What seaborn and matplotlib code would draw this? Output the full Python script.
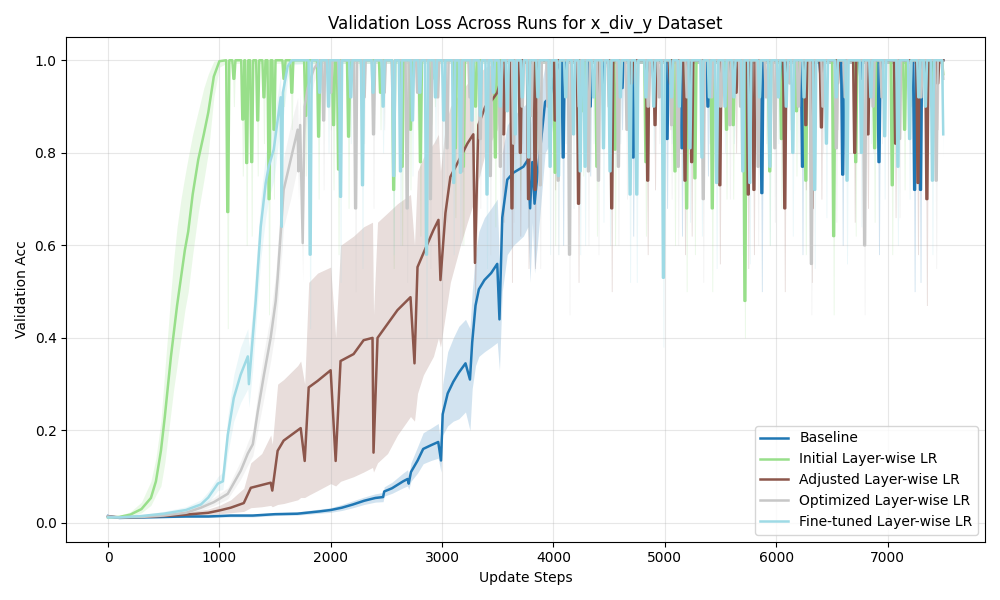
import numpy as np
import pandas as pd
import matplotlib
matplotlib.use("Agg")
import matplotlib.pyplot as plt
import seaborn as sns

# ---------------- data ----------------
labels = ["Baseline", "Initial Layer-wise LR", "Adjusted Layer-wise LR",
          "Optimized Layer-wise LR", "Fine-tuned Layer-wise LR"]
colors = ["#1f77b4", "#98df8a", "#8c564b", "#c7c7c7", "#9edae5"]
PLATEAU = 1.0
PLATEAU_LO = 0.993
LAST_STEP = 7500

# Baseline
base_steps = [0, 50, 100, 300, 500, 700, 900, 1100, 1300, 1500, 1700, 1900, 2000, 2100, 2200, 2300, 2400,
              2470, 2480, 2550, 2650, 2690, 2700, 2720, 2780, 2830, 2900, 2965, 2990, 3005, 3050, 3100,
              3150, 3210, 3250, 3270, 3300, 3330, 3380, 3440, 3495, 3515, 3540, 3585, 3640, 3730, 3770,
              3790, 3810, 3830, 3855, 3925, 3970, 4000, 4040]
base_mean = [0.015, 0.013, 0.011, 0.012, 0.013, 0.014, 0.014, 0.016, 0.016, 0.019, 0.020, 0.025, 0.028,
             0.033, 0.040, 0.048, 0.054, 0.056, 0.068, 0.075, 0.090, 0.095, 0.085, 0.110, 0.135, 0.160,
             0.168, 0.175, 0.135, 0.235, 0.280, 0.305, 0.325, 0.345, 0.310, 0.390, 0.470, 0.505, 0.525,
             0.540, 0.560, 0.440, 0.660, 0.742, 0.757, 0.770, 0.785, 0.680, 0.780, 0.690, 0.750, 0.910,
             0.920, 0.960, 0.985]
base_lo = [0.012, 0.011, 0.009, 0.010, 0.011, 0.012, 0.012, 0.013, 0.013, 0.016, 0.017, 0.021, 0.023,
           0.027, 0.033, 0.040, 0.045, 0.046, 0.058, 0.064, 0.076, 0.080, 0.072, 0.090, 0.108, 0.128,
           0.135, 0.140, 0.110, 0.190, 0.210, 0.220, 0.225, 0.240, 0.200, 0.290, 0.340, 0.360, 0.370,
           0.380, 0.390, 0.330, 0.500, 0.580, 0.600, 0.620, 0.640, 0.520, 0.650, 0.540, 0.600, 0.800,
           0.820, 0.880, 0.940]
base_hi = [0.018, 0.015, 0.013, 0.014, 0.015, 0.016, 0.017, 0.019, 0.019, 0.022, 0.024, 0.030, 0.033,
           0.040, 0.048, 0.056, 0.063, 0.066, 0.078, 0.088, 0.108, 0.115, 0.100, 0.130, 0.165, 0.195,
           0.205, 0.215, 0.165, 0.300, 0.370, 0.400, 0.425, 0.440, 0.420, 0.500, 0.580, 0.630, 0.660,
           0.680, 0.700, 0.560, 0.800, 0.860, 0.880, 0.900, 0.910, 0.850, 0.910, 0.860, 0.900, 0.990,
           1.000, 1.000, 1.000]
base_dip_steps = [4087, 4330, 4450, 4616, 4716, 4900, 5020, 5154, 5387, 5560, 5700, 5871, 6050, 6236,
                  6400, 6597, 6760, 6923, 7100, 7243, 7296, 7400]
base_dip_mean = [0.79, 0.90, 0.95, 0.94, 0.79, 0.96, 0.83, 0.81, 0.90, 0.96, 0.97, 0.713, 0.95, 0.77,
                 0.97, 0.753, 0.96, 0.78, 0.96, 0.72, 0.72, 0.96]
base_dip_lo = [0.60, 0.75, 0.85, 0.85, 0.62, 0.88, 0.68, 0.62, 0.75, 0.88, 0.90, 0.50, 0.85, 0.58,
               0.88, 0.60, 0.88, 0.58, 0.88, 0.50, 0.52, 0.90]
base_end = 1.0

# Initial Layer-wise LR
init_steps = [0, 100, 200, 300, 385, 430, 475, 510, 540, 565, 590, 620, 655, 690, 720, 760, 810, 860,
              900, 950, 1000]
init_mean = [0.012, 0.013, 0.018, 0.030, 0.054, 0.090, 0.156, 0.230, 0.300, 0.360, 0.410, 0.470, 0.530,
             0.590, 0.630, 0.710, 0.785, 0.840, 0.887, 0.965, 0.998]
init_lo = [0.010, 0.011, 0.014, 0.022, 0.038, 0.060, 0.080, 0.130, 0.190, 0.240, 0.290, 0.340, 0.400,
           0.460, 0.500, 0.580, 0.670, 0.740, 0.800, 0.920, 0.985]
init_hi = [0.014, 0.016, 0.024, 0.045, 0.090, 0.140, 0.220, 0.330, 0.420, 0.500, 0.570, 0.640, 0.700,
           0.750, 0.790, 0.840, 0.890, 0.940, 0.970, 0.998, 1.000]
init_dip_steps = [1075, 1130, 1210, 1245, 1290, 1344, 1400, 1446, 1490, 1580, 1650, 1775, 1891, 2025,
                  2070, 2160, 2285, 2447, 2565, 2641, 2716, 2805, 2895, 2935, 3119, 3191, 3300, 3478,
                  3702, 3850, 4015, 4267, 4390, 4553, 4830, 5091, 5196, 5270, 5426, 5554, 5614, 5719,
                  5942, 6047, 6182, 6266, 6516, 6714, 6884, 7042, 7153, 7400]
init_dip_mean = [0.672, 0.96, 0.872, 0.778, 0.78, 0.87, 0.92, 0.70, 0.85, 0.96, 0.93, 0.88, 0.835, 0.86,
                 0.764, 0.835, 0.92, 0.93, 0.72, 0.77, 0.85, 0.78, 0.86, 0.96, 0.81, 0.77, 0.90, 0.79,
                 0.88, 0.92, 0.757, 0.89, 0.77, 0.807, 0.78, 0.76, 0.68, 0.745, 0.68, 0.85, 0.86, 0.48,
                 0.76, 0.83, 0.89, 0.74, 0.62, 0.78, 0.81, 0.73, 0.85, 0.90]
init_dip_lo = [0.42, 0.90, 0.75, 0.60, 0.62, 0.75, 0.82, 0.45, 0.70, 0.90, 0.85, 0.75, 0.70, 0.72,
               0.58, 0.68, 0.82, 0.85, 0.55, 0.60, 0.72, 0.62, 0.72, 0.90, 0.66, 0.60, 0.78, 0.64,
               0.72, 0.80, 0.60, 0.75, 0.62, 0.60, 0.62, 0.60, 0.50, 0.58, 0.50, 0.70, 0.70, 0.40,
               0.60, 0.68, 0.75, 0.58, 0.45, 0.62, 0.65, 0.58, 0.72, 0.80]
init_end = 0.97

# Adjusted Layer-wise LR
adj_steps = [0, 100, 300, 500, 700, 900, 1000, 1102, 1219, 1282, 1380, 1461, 1475, 1523, 1577, 1703,
             1730, 1766, 1802, 1882, 1999, 2044, 2088, 2205, 2295, 2375, 2384, 2420, 2510, 2599, 2716,
             2752, 2779, 2832, 2922, 2967, 2985, 3030, 3074, 3164, 3227, 3280, 3295, 3325, 3388, 3451,
             3495, 3530]
adj_mean = [0.014, 0.012, 0.013, 0.015, 0.018, 0.022, 0.027, 0.033, 0.043, 0.076, 0.082, 0.087, 0.070,
            0.156, 0.178, 0.200, 0.205, 0.134, 0.293, 0.307, 0.330, 0.134, 0.350, 0.365, 0.395, 0.400,
            0.152, 0.400, 0.430, 0.460, 0.488, 0.345, 0.553, 0.583, 0.633, 0.655, 0.525, 0.670, 0.748,
            0.790, 0.820, 0.840, 0.562, 0.860, 0.900, 0.915, 0.930, 0.960]
adj_lo = [0.011, 0.010, 0.011, 0.012, 0.014, 0.017, 0.020, 0.022, 0.025, 0.033, 0.035, 0.038, 0.035,
          0.040, 0.042, 0.050, 0.055, 0.055, 0.060, 0.070, 0.085, 0.080, 0.090, 0.100, 0.110, 0.120,
          0.110, 0.130, 0.150, 0.190, 0.230, 0.220, 0.280, 0.320, 0.360, 0.400, 0.380, 0.450, 0.520,
          0.600, 0.650, 0.690, 0.450, 0.740, 0.800, 0.830, 0.850, 0.900]
adj_hi = [0.017, 0.014, 0.016, 0.019, 0.023, 0.030, 0.038, 0.050, 0.075, 0.130, 0.150, 0.190, 0.170,
          0.300, 0.310, 0.340, 0.350, 0.300, 0.520, 0.540, 0.553, 0.400, 0.600, 0.620, 0.640, 0.650,
          0.450, 0.650, 0.670, 0.690, 0.710, 0.600, 0.760, 0.790, 0.820, 0.840, 0.760, 0.860, 0.900,
          0.930, 0.950, 0.960, 0.700, 0.970, 0.985, 0.990, 0.995, 1.000]
adj_dip_steps = [3552, 3627, 3702, 3776, 3835, 4015, 4225, 4400, 4523, 4700, 4846, 4912, 5050, 5181,
                 5241, 5494, 5640, 5749, 5800, 6077, 6266, 6320, 6406, 6550, 6705, 6824, 7072, 7273,
                 7353, 7450]
adj_dip_mean = [0.84, 0.68, 0.80, 0.70, 0.72, 0.87, 0.69, 0.93, 0.68, 0.95, 0.74, 0.86, 0.95, 0.74,
                0.78, 0.73, 0.93, 0.71, 0.72, 0.68, 0.86, 0.68, 0.855, 0.95, 0.80, 0.84, 0.82, 0.735,
                0.70, 0.95]
adj_dip_lo = [0.65, 0.52, 0.62, 0.55, 0.55, 0.72, 0.52, 0.82, 0.50, 0.85, 0.58, 0.72, 0.85, 0.58,
              0.62, 0.56, 0.80, 0.55, 0.58, 0.50, 0.72, 0.52, 0.70, 0.85, 0.65, 0.68, 0.66, 0.58,
              0.47, 0.85]
adj_end = 1.0

# Optimized Layer-wise LR
opt_steps = [0, 100, 300, 500, 700, 834, 950, 1075, 1192, 1255, 1300, 1344, 1400, 1460, 1506, 1523,
             1577, 1640, 1703, 1710, 1725, 1748, 1765, 1793, 1846, 1900]
opt_mean = [0.014, 0.012, 0.013, 0.016, 0.022, 0.033, 0.045, 0.063, 0.113, 0.150, 0.170, 0.240, 0.320,
            0.400, 0.480, 0.530, 0.720, 0.785, 0.850, 0.760, 0.860, 0.605, 0.900, 0.940, 0.980, 1.000]
opt_lo = [0.011, 0.010, 0.011, 0.013, 0.018, 0.027, 0.037, 0.052, 0.095, 0.125, 0.145, 0.200, 0.270,
          0.350, 0.420, 0.470, 0.640, 0.700, 0.770, 0.700, 0.780, 0.520, 0.840, 0.880, 0.950, 0.990]
opt_hi = [0.017, 0.014, 0.016, 0.020, 0.027, 0.040, 0.055, 0.076, 0.135, 0.175, 0.200, 0.280, 0.370,
          0.450, 0.540, 0.600, 0.790, 0.860, 0.920, 0.840, 0.930, 0.700, 0.960, 0.990, 1.000, 1.000]
opt_dip_steps = [1936, 2000, 2080, 2223, 2300, 2384, 2480, 2560, 2686, 2780, 2895, 2960, 3044, 3179,
                 3250, 3343, 3433, 3523, 3642, 3720, 3800, 3881, 3950, 4042, 4144, 4230, 4314, 4404,
                 4500, 4583, 4660, 4748, 4850, 4950, 5061, 5120, 5200, 5345, 5420, 5500, 5584, 5680,
                 5838, 5910, 5988, 6122, 6200, 6316, 6420, 6540, 6620, 6794, 6870, 6950, 7108, 7200,
                 7300, 7437]
opt_dip_mean = [0.87, 0.93, 0.90, 0.68, 0.92, 0.84, 0.93, 0.90, 0.68, 0.93, 0.70, 0.92, 0.81, 0.76,
                0.92, 0.83, 0.75, 0.77, 0.82, 0.90, 0.88, 0.73, 0.90, 0.74, 0.58, 0.90, 0.76, 0.74,
                0.90, 0.77, 0.85, 0.89, 0.90, 0.92, 0.86, 0.77, 0.92, 0.70, 0.92, 0.90, 0.86, 0.90,
                0.77, 0.92, 0.81, 0.95, 0.90, 0.56, 0.90, 0.81, 0.92, 0.60, 0.90, 0.92, 0.83, 0.90,
                0.92, 0.74]
opt_dip_lo = [0.72, 0.85, 0.80, 0.50, 0.82, 0.68, 0.85, 0.80, 0.52, 0.85, 0.55, 0.82, 0.65, 0.60,
              0.82, 0.68, 0.58, 0.58, 0.65, 0.80, 0.75, 0.55, 0.80, 0.58, 0.45, 0.80, 0.60, 0.58,
              0.78, 0.60, 0.70, 0.75, 0.80, 0.82, 0.70, 0.60, 0.82, 0.52, 0.80, 0.80, 0.70, 0.80,
              0.60, 0.82, 0.65, 0.85, 0.80, 0.45, 0.80, 0.65, 0.82, 0.45, 0.80, 0.82, 0.66, 0.80,
              0.82, 0.55]
opt_end = 0.96

# Fine-tuned Layer-wise LR
fine_steps = [0, 100, 300, 500, 700, 834, 900, 986, 1031, 1075, 1129, 1190, 1255, 1265, 1299, 1326,
              1371, 1416, 1443, 1488, 1550, 1560, 1570, 1613, 1650]
fine_mean = [0.012, 0.012, 0.015, 0.020, 0.028, 0.040, 0.055, 0.085, 0.090, 0.190, 0.270, 0.320, 0.360,
             0.300, 0.400, 0.480, 0.640, 0.735, 0.770, 0.807, 0.920, 0.640, 0.930, 0.987, 1.000]
fine_lo = [0.010, 0.010, 0.012, 0.016, 0.022, 0.032, 0.044, 0.070, 0.072, 0.150, 0.220, 0.260, 0.290,
           0.250, 0.330, 0.420, 0.570, 0.660, 0.700, 0.740, 0.860, 0.560, 0.870, 0.960, 0.990]
fine_hi = [0.015, 0.014, 0.018, 0.025, 0.035, 0.050, 0.068, 0.100, 0.110, 0.230, 0.320, 0.380, 0.420,
           0.380, 0.460, 0.550, 0.700, 0.800, 0.830, 0.870, 0.970, 0.720, 0.980, 1.000, 1.000]
fine_dip_steps = [1815, 1900, 1980, 2088, 2180, 2285, 2380, 2470, 2565, 2626, 2734, 2800, 2860, 2940,
                  3014, 3104, 3164, 3268, 3343, 3403, 3460, 3522, 3585, 3657, 3720, 3777, 3860, 3970,
                  4045, 4110, 4180, 4240, 4284, 4360, 4449, 4508, 4600, 4688, 4748, 4830, 4900, 4987,
                  5060, 5130, 5226, 5333, 5400, 5465, 5540, 5620, 5700, 5763, 5850, 5943, 6020, 6090,
                  6149, 6250, 6346, 6451, 6540, 6636, 6765, 6850, 6974, 7093, 7198, 7280, 7340, 7403]
fine_dip_mean = [0.58, 0.93, 0.90, 0.705, 0.92, 0.73, 0.93, 0.90, 0.75, 0.76, 0.87, 0.93, 0.58, 0.92,
                 0.87, 0.735, 0.757, 0.87, 0.88, 0.71, 0.93, 0.90, 0.89, 0.84, 0.92, 0.79, 0.92, 0.77,
                 0.75, 0.92, 0.84, 0.76, 0.77, 0.92, 0.81, 0.76, 0.92, 0.71, 0.71, 0.92, 0.90, 0.53,
                 0.92, 0.90, 0.81, 0.79, 0.92, 0.735, 0.90, 0.92, 0.76, 0.735, 0.92, 0.77, 0.92, 0.90,
                 0.80, 0.92, 0.72, 0.82, 0.92, 0.74, 0.80, 0.92, 0.836, 0.77, 0.83, 0.92, 0.90, 0.74]
fine_dip_lo = [0.42, 0.85, 0.80, 0.52, 0.82, 0.55, 0.85, 0.80, 0.58, 0.60, 0.75, 0.85, 0.40, 0.82,
               0.72, 0.58, 0.60, 0.72, 0.75, 0.55, 0.85, 0.78, 0.75, 0.68, 0.82, 0.62, 0.82, 0.58,
               0.58, 0.82, 0.68, 0.58, 0.60, 0.82, 0.65, 0.60, 0.82, 0.52, 0.52, 0.82, 0.80, 0.38,
               0.82, 0.80, 0.65, 0.62, 0.82, 0.55, 0.80, 0.82, 0.58, 0.56, 0.82, 0.60, 0.82, 0.80,
               0.62, 0.82, 0.55, 0.66, 0.82, 0.56, 0.64, 0.82, 0.70, 0.60, 0.70, 0.82, 0.80, 0.58]
fine_end = 0.84

series = [
    (base_steps, base_mean, base_lo, base_hi, base_dip_steps, base_dip_mean, base_dip_lo, base_end),
    (init_steps, init_mean, init_lo, init_hi, init_dip_steps, init_dip_mean, init_dip_lo, init_end),
    (adj_steps, adj_mean, adj_lo, adj_hi, adj_dip_steps, adj_dip_mean, adj_dip_lo, adj_end),
    (opt_steps, opt_mean, opt_lo, opt_hi, opt_dip_steps, opt_dip_mean, opt_dip_lo, opt_end),
    (fine_steps, fine_mean, fine_lo, fine_hi, fine_dip_steps, fine_dip_mean, fine_dip_lo, fine_end),
]


def build(steps, mean, lo, hi, dsteps, dmean, dlo, end):
    rows = [(s, m, l, h) for s, m, l, h in zip(steps, mean, lo, hi)]
    for s, m, l in zip(dsteps, dmean, dlo):
        rows.append((s - 14, PLATEAU, PLATEAU_LO, PLATEAU))
        rows.append((s - 4, m, l, PLATEAU))
        rows.append((s + 4, m, l, PLATEAU))
        rows.append((s + 14, PLATEAU, PLATEAU_LO, PLATEAU))
    rows.append((LAST_STEP - 10, PLATEAU, PLATEAU_LO, PLATEAU))
    rows.append((LAST_STEP, end, end - 0.05 if end < 1 else PLATEAU_LO, PLATEAU))
    df = pd.DataFrame(rows, columns=["step", "mean", "lo", "hi"])
    df = df.sort_values("step").drop_duplicates("step").reset_index(drop=True)
    return df


fig, ax = plt.subplots(figsize=(10, 6), dpi=100)
for lab, col, ser in zip(labels, colors, series):
    df = build(*ser)
    ax.fill_between(df["step"], df["lo"], df["hi"], color=col, alpha=0.2, linewidth=0)
    sns.lineplot(data=df, x="step", y="mean", color=col, label=lab, ax=ax,
                 linewidth=1.8, estimator=None, sort=True)

ax.set_title("Validation Loss Across Runs for x_div_y Dataset")
ax.set_xlabel("Update Steps")
ax.set_ylabel("Validation Acc")
ax.grid(True, alpha=0.3)
ax.legend(loc="lower right")
fig.tight_layout()
fig.savefig("out.png", dpi=100)
